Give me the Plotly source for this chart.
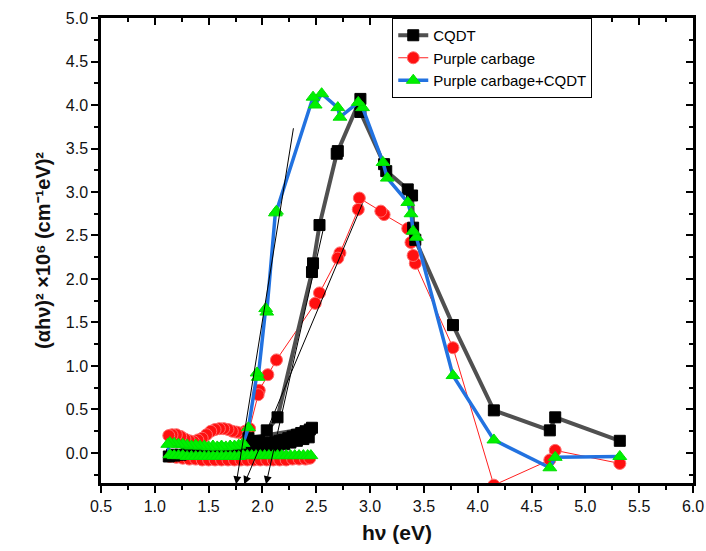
import plotly.graph_objects as go

# ---------------- data ----------------
# CQDT (black squares), path in drawing order
cqdt_e = [5.32, 4.72, 4.67, 4.15, 3.77, 3.42, 3.40, 3.39, 3.35, 3.15, 3.13, 2.91, 2.91,
          2.70, 2.69, 2.53, 2.47, 2.46, 2.14, 2.04, 1.97, 1.90, 1.84, 1.78, 1.72, 1.66,
          1.60, 1.54, 1.48, 1.42, 1.36, 1.30, 1.24, 1.18, 1.13, 1.16, 1.30, 1.50, 1.70,
          1.87, 2.46, 2.44, 2.40, 2.36, 2.32, 2.28, 2.24, 2.20, 2.16, 2.12, 2.08, 2.04,
          2.00, 1.96, 1.92, 1.96, 2.02, 2.08, 2.14, 2.20, 2.26, 2.32, 2.38, 2.43]
cqdt_v = [0.14, 0.41, 0.26, 0.49, 1.47, 2.45, 2.59, 2.96, 3.03, 3.24, 3.32, 3.92, 4.07,
          3.47, 3.44, 2.62, 2.18, 2.08, 0.41, 0.26, 0.14, 0.10, 0.06, 0.04, 0.03, 0.02,
          0.02, 0.01, 0.01, 0.00, 0.00, -0.01, -0.02, -0.03, -0.04, -0.02, 0.00, 0.01, 0.02,
          0.17, 0.29, 0.27, 0.25, 0.23, 0.21, 0.19, 0.17, 0.15, 0.14, 0.13, 0.12, 0.11,
          0.10, 0.09, 0.08, 0.05, 0.06, 0.07, 0.08, 0.10, 0.12, 0.14, 0.16, 0.18]

# Purple carbage (red circles)
pc_e = [5.32, 4.72, 4.67, 4.15, 3.77, 3.42, 3.40, 3.38, 3.35, 3.13, 3.10, 2.90, 2.89,
        2.72, 2.70, 2.53, 2.49, 2.13, 2.05, 1.97, 1.96, 1.88, 1.84, 1.80, 1.76, 1.72,
        1.68, 1.64, 1.60, 1.56, 1.52, 1.48, 1.44, 1.40, 1.36, 1.32, 1.28, 1.24, 1.20,
        1.16, 1.13, 1.14, 1.20, 1.26, 1.32, 1.38, 1.44, 1.50, 1.56, 1.62, 1.68, 1.74,
        1.80, 1.86, 1.92, 1.98, 2.04, 2.10, 2.16, 2.22, 2.28, 2.34, 2.40, 2.44]
pc_v = [-0.12, 0.03, -0.08, -0.37, 1.21, 2.18, 2.27, 2.42, 2.58, 2.74, 2.78, 2.93, 2.80,
        2.30, 2.24, 1.84, 1.72, 1.07, 0.90, 0.72, 0.67, 0.28, 0.25, 0.23, 0.24, 0.25,
        0.27, 0.28, 0.28, 0.27, 0.25, 0.21, 0.17, 0.15, 0.13, 0.14, 0.16, 0.19, 0.21,
        0.21, 0.20, -0.04, -0.05, -0.06, -0.07, -0.07, -0.08, -0.08, -0.08, -0.08, -0.08,
        -0.08, -0.08, -0.08, -0.08, -0.08, -0.08, -0.08, -0.08, -0.08, -0.07, -0.07, -0.07, -0.06]

# Purple carbage + CQDT (blue line, green triangles)
pcq_e = [5.32, 4.72, 4.67, 4.15, 3.77, 3.43, 3.40, 3.38, 3.35, 3.16, 3.12, 2.93, 2.89,
         2.72, 2.70, 2.55, 2.49, 2.47, 2.13, 2.12, 2.04, 2.03, 1.96, 1.95, 1.87, 1.82,
         1.78, 1.74, 1.70, 1.66, 1.62, 1.58, 1.54, 1.50, 1.46, 1.42, 1.38, 1.34, 1.30,
         1.26, 1.22, 1.18, 1.14, 1.12, 1.14, 1.18, 1.22, 1.26, 1.30, 1.34, 1.38, 1.42,
         1.46, 1.50, 1.54, 1.58, 1.62, 1.66, 1.70, 1.74, 1.78, 1.82, 1.86, 1.90, 1.94,
         1.98, 2.02, 2.06, 2.10, 2.14, 2.18, 2.22, 2.26, 2.30, 2.34, 2.38, 2.42, 2.45]
pcq_v = [-0.04, -0.05, -0.17, 0.15, 0.89, 2.48, 2.55, 2.75, 2.88, 3.16, 3.34, 3.97, 4.03,
         3.86, 3.97, 4.13, 4.00, 4.09, 2.78, 2.76, 1.62, 1.66, 0.87, 0.92, 0.29, 0.11,
         0.09, 0.08, 0.08, 0.07, 0.08, 0.07, 0.08, 0.07, 0.08, 0.08, 0.09, 0.08, 0.09,
         0.10, 0.10, 0.11, 0.12, 0.10, -0.02, -0.03, -0.03, -0.03, -0.04, -0.04, -0.04, -0.04,
         -0.04, -0.04, -0.04, -0.04, -0.04, -0.04, -0.04, -0.04, -0.04, -0.03, -0.03, -0.03, -0.03,
         -0.03, -0.03, -0.03, -0.03, -0.03, -0.03, -0.03, -0.03, -0.03, -0.03, -0.03, -0.03, -0.03]

# Tangent (band-gap extrapolation) lines: top point -> arrow tip
tan_top_e = [2.29, 2.935, 2.57]
tan_top_v = [3.75, 2.885, 2.60]
tan_tip_e = [1.755, 1.83, 2.033]
tan_tip_v = [-0.36, -0.36, -0.36]

x_ticks = [0.5, 1.0, 1.5, 2.0, 2.5, 3.0, 3.5, 4.0, 4.5, 5.0, 5.5, 6.0]
y_ticks = [0.0, 0.5, 1.0, 1.5, 2.0, 2.5, 3.0, 3.5, 4.0, 4.5, 5.0]

X_RANGE = [0.5, 6.0]
Y_RANGE = [-0.345, 5.0]

# ---------------- figure ----------------
fig = go.Figure()

fig.add_trace(go.Scatter(
    x=pc_e, y=pc_v, name="Purple carbage", mode="lines+markers",
    line=dict(color="#ff2020", width=1),
    marker=dict(symbol="circle", size=12, color="#ff1010",
                line=dict(color="#ff6a6a", width=1)),
    legendrank=2))

fig.add_trace(go.Scatter(
    x=cqdt_e, y=cqdt_v, name="CQDT", mode="lines+markers",
    line=dict(color="#505050", width=4),
    marker=dict(symbol="square", size=11, color="#000000",
                line=dict(color="#000000", width=1)),
    legendrank=1))

fig.add_trace(go.Scatter(
    x=pcq_e, y=pcq_v, name="Purple carbage+CQDT", mode="lines+markers",
    line=dict(color="#2272e0", width=3.5),
    marker=dict(symbol="triangle-up", size=12, color="#00f000",
                line=dict(color="#00e000", width=1)),
    legendrank=3))

# invisible trace for top/right mirror axes
fig.add_trace(go.Scatter(x=X_RANGE, y=Y_RANGE, xaxis="x2", yaxis="y2",
                         mode="markers", marker=dict(opacity=0),
                         showlegend=False, hoverinfo="skip"))

for x0, y0, x1, y1 in zip(tan_top_e, tan_top_v, tan_tip_e, tan_tip_v):
    fig.add_annotation(x=x1, y=y1, ax=x0, ay=y0, xref="x", yref="y",
                       axref="x", ayref="y", showarrow=True, arrowhead=2,
                       arrowsize=1.6, arrowwidth=1, arrowcolor="#000000", text="")

font_family = "Liberation Sans, Arial, sans-serif"

fig.update_layout(
    width=706, height=551,
    margin=dict(l=101, r=13, t=18, b=68),
    paper_bgcolor="white", plot_bgcolor="white",
    font=dict(family=font_family, size=16, color="#111111"),
    showlegend=True,
    legend=dict(x=0.492, y=1.0, xanchor="left", yanchor="top",
                bgcolor="rgba(255,255,255,1)", bordercolor="#000000", borderwidth=1,
                font=dict(size=15, color="#000000"), tracegroupgap=0,
                itemwidth=30),
    xaxis=dict(range=X_RANGE, tickvals=x_ticks, ticktext=[f"{v:.1f}" for v in x_ticks],
               ticks="outside", ticklen=7, tickwidth=2, tickcolor="#000",
               minor=dict(ticks="outside", ticklen=4, tickwidth=1.5, tickcolor="#000",
                          dtick=0.25, showgrid=False),
               showline=True, linecolor="#000", linewidth=2.5, showgrid=False,
               zeroline=False, automargin=False,
               title=dict(text="<b>hν (eV)</b>", font=dict(size=21), standoff=12)),
    yaxis=dict(range=Y_RANGE, tickvals=y_ticks, ticktext=[f"{v:.1f}" for v in y_ticks],
               ticks="outside", ticklen=7, tickwidth=2, tickcolor="#000",
               minor=dict(ticks="outside", ticklen=4, tickwidth=1.5, tickcolor="#000",
                          dtick=0.25, showgrid=False),
               showline=True, linecolor="#000", linewidth=2.5, showgrid=False,
               zeroline=False, automargin=False,
               title=dict(text="<b>(αhν)² ×10⁶ (cm⁻¹eV)²</b>", font=dict(size=20), standoff=10)),
    xaxis2=dict(range=X_RANGE, overlaying="x", side="top", anchor="y2",
                tickvals=x_ticks, showticklabels=False, ticks="inside", ticklen=7,
                tickwidth=2, tickcolor="#000", automargin=False,
                minor=dict(ticks="inside", ticklen=4, tickwidth=1.5, dtick=0.25, tickcolor="#000"),
                showline=True, linecolor="#000", linewidth=2.5, showgrid=False, zeroline=False),
    yaxis2=dict(range=Y_RANGE, overlaying="y", side="right", anchor="x2",
                tickvals=y_ticks, showticklabels=False, ticks="inside", ticklen=7,
                tickwidth=2, tickcolor="#000", automargin=False,
                minor=dict(ticks="inside", ticklen=4, tickwidth=1.5, dtick=0.25, tickcolor="#000"),
                showline=True, linecolor="#000", linewidth=2.5, showgrid=False, zeroline=False),
)

fig.write_html("out.html")
